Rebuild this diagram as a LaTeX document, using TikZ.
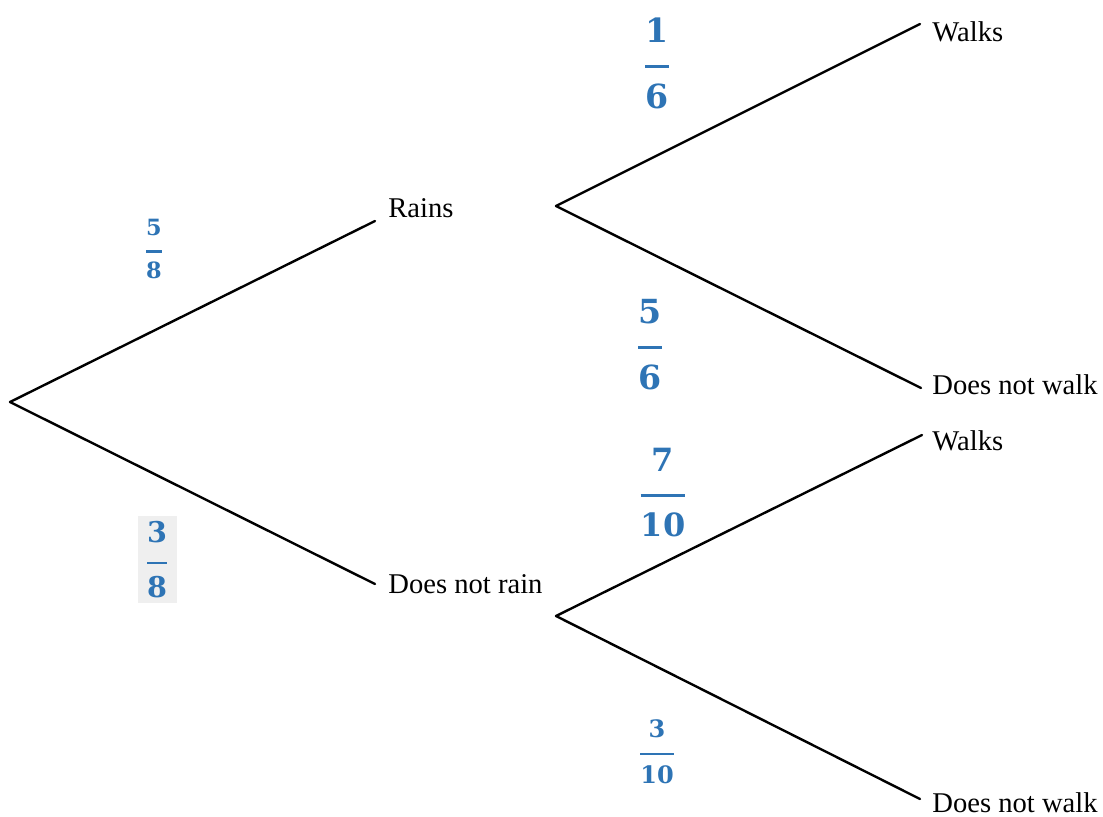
\documentclass[tikz,border=0pt]{standalone}
\usepackage{amsmath}
\usepackage{fontspec}
\setmainfont{Liberation Serif}
\newfontfamily\probfont{DejaVu Serif}
\usetikzlibrary{positioning}
\definecolor{probblue}{RGB}{46,116,181}
\definecolor{boxgrey}{RGB}{239,239,239}
\newcommand{\prob}[3]{$\genfrac{}{}{#1}{0}{\raisebox{0.28em}{\probfont\bfseries #2}}{\raisebox{-0.28em}{\probfont\bfseries #3}}$}

\begin{document}
\begin{tikzpicture}[x=0.5pt,y=-0.5pt,
  branch/.style={line width=1.2pt,line cap=round},
  outcome/.style={anchor=base west,inner sep=0pt,font=\fontsize{14.3}{17}\selectfont},
  probnode/.style={text=probblue,inner sep=1pt,anchor=base,font=\fontsize{#1}{#1}\selectfont}]
\useasboundingbox (0,0) rectangle (1103,816);
\coordinate (root) at (10,402);
\coordinate (rains) at (375,221);
\coordinate (norain) at (375,584);
\coordinate (rainsfork) at (556,206);
\coordinate (norainfork) at (556,616);
\coordinate (walksA) at (920,24);
\coordinate (nowalkA) at (921,388);
\coordinate (walksB) at (922,435);
\coordinate (nowalkB) at (920,799);
\node[outcome] (rainstxt) at ([xshift=6.5pt,yshift=2pt]rains) {Rains};
\node[outcome] (noraintxt) at ([xshift=6.5pt,yshift=-4.5pt]norain) {Does not rain};
\node[outcome] (walksAtxt) at ([xshift=6pt,yshift=-8.5pt]walksA) {Walks};
\node[outcome] (nowalkAtxt) at ([xshift=5.5pt,yshift=-3pt]nowalkA) {Does not walk};
\node[outcome] (walksBtxt) at ([xshift=5pt,yshift=-7.5pt]walksB) {Walks};
\node[outcome] (nowalkBtxt) at ([xshift=6pt,yshift=-6.5pt]nowalkB) {Does not walk};
\draw[branch] (root) -- (rains);
\draw[branch] (root) -- (norain);
\draw[branch] (rainsfork) -- (walksA);
\draw[branch] (rainsfork) -- (nowalkA);
\draw[branch] (norainfork) -- (walksB);
\draw[branch] (norainfork) -- (nowalkB);
\node[probnode=11.2] (p58) at (154,257) {\prob{1.1pt}{5}{8}};
\node[probnode=14.3,fill=boxgrey,minimum width=19.5pt,minimum height=43.5pt] (p38) at (157,570) {\prob{1.1pt}{3}{8}};
\node[probnode=16.6] (p16) at (657,75) {\prob{1.7pt}{1}{6}};
\node[probnode=16.6] (p56) at (650,356) {\prob{1.5pt}{5}{6}};
\node[probnode=16] (p710) at (663,504) {\prob{1.5pt}{7}{10}};
\node[probnode=12] (p310) at (657,760) {\prob{1.3pt}{3}{10}};
\end{tikzpicture}
\end{document}
